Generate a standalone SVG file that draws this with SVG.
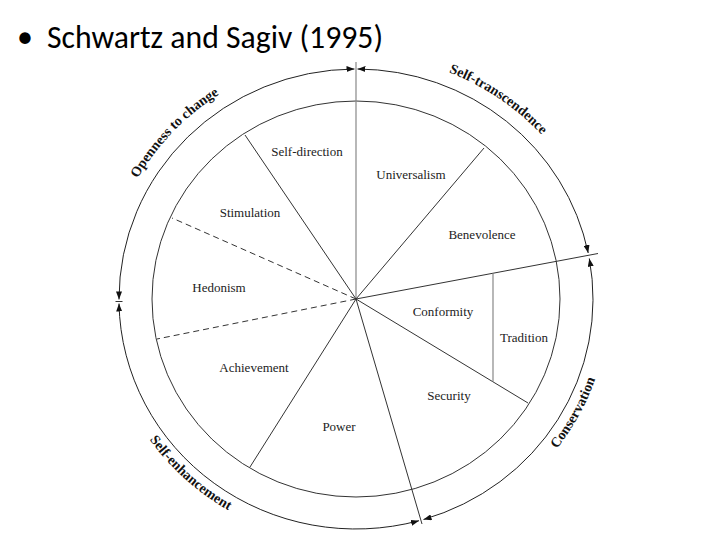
<svg xmlns="http://www.w3.org/2000/svg" width="720" height="540" viewBox="0 0 720 540">
  <style>
    .title { font-family: Carlito, Lato, "Liberation Sans", sans-serif; font-size: 32px; fill: #000; }
    .ring { fill: none; stroke: #333; stroke-width: 1; }
    .div { stroke: #333; stroke-width: 1; fill: none; }
    .dash { stroke: #333; stroke-width: 1; stroke-dasharray: 6 4; fill: none; }
    .gray { stroke: #888; stroke-width: 1.2; fill: none; }
    .arc { fill: none; stroke: #222; stroke-width: 1; marker-start: url(#ah); marker-end: url(#ah); }
    .lbl { font-family: "Liberation Serif", "Times New Roman", serif; font-size: 13px; fill: #222; text-anchor: middle; }
    .hv { font-family: "Liberation Serif", "Times New Roman", serif; font-size: 14px; font-weight: bold; fill: #111; }
  </style>
  <defs>
    <marker id="ah" viewBox="0 0 8 6" refX="8" refY="3" markerWidth="8" markerHeight="6" markerUnits="userSpaceOnUse" orient="auto-start-reverse">
      <path d="M0,0 L8,3 L0,6 z" fill="#111"/>
    </marker>
    <path id="pOpen" d="M105.3,286.2 A251,244 0 0,1 325.4,56.8"/>
    <path id="pTrans" d="M334.1,55.9 A251,244 0 0,1 598.4,235.8"/>
    <path id="pCons" d="M450.8,527.1 A253,246 0 0,0 603.5,247.9"/>
    <path id="pEnh" d="M105.9,328.9 A252,245 0 0,0 342.8,543.7"/>
  </defs>
  <rect width="720" height="540" fill="#fff"/>

  <g id="title">
    <text class="title" x="17" y="47" font-size="28">•</text>
    <text class="title" x="47" y="48" font-size="30" textLength="336" lengthAdjust="spacingAndGlyphs">Schwartz and Sagiv (1995)</text>
  </g>

  <g id="inner-ring">
    <ellipse class="ring" cx="356" cy="299" rx="204" ry="198"/>
  </g>

  <g id="connectors">
    <line class="gray" x1="356" y1="299" x2="356" y2="62"/>
    <line class="div" x1="356" y1="299" x2="245" y2="135"/>
    <line class="dash" x1="356" y1="299" x2="172" y2="218"/>
    <line class="dash" x1="356" y1="299" x2="157" y2="339"/>
    <line class="div" x1="356" y1="299" x2="250" y2="467"/>
    <line class="div" x1="356" y1="299" x2="422" y2="524"/>
    <line class="div" x1="356" y1="299" x2="528" y2="403"/>
    <line class="div" x1="356" y1="299" x2="598" y2="253.5"/>
    <line class="gray" x1="493" y1="273.5" x2="493" y2="381.8"/>
    <line class="div" x1="356" y1="299" x2="484" y2="148"/>
    <line class="div" x1="115.5" y1="301.5" x2="122.5" y2="301.5"/>
  </g>

  <g id="outer-arcs">
    <path id="arcOpen" class="arc" d="M119,299.5 A237,230 0 0,1 354.5,69"/>
    <path id="arcTrans" class="arc" d="M357.5,69 A237,230 0 0,1 588.2,253"/>
    <path id="arcCons" class="arc" d="M589.3,258.5 A237,230 0 0,1 423.5,519.5"/>
    <path id="arcEnh" class="arc" d="M419,520.7 A237,230 0 0,1 119,303.5"/>
  </g>

  <g id="openness"><text class="hv"><textPath href="#pOpen" startOffset="50%" text-anchor="middle">Openness to change</textPath></text></g>
  <g id="self-transcendence"><text class="hv"><textPath href="#pTrans" startOffset="50%" text-anchor="middle">Self-transcendence</textPath></text></g>
  <g id="conservation"><text class="hv"><textPath href="#pCons" startOffset="50%" text-anchor="middle">Conservation</textPath></text></g>
  <g id="self-enhancement"><text class="hv"><textPath href="#pEnh" startOffset="50%" text-anchor="middle">Self-enhancement</textPath></text></g>

  <g id="self-direction"><text class="lbl" x="307" y="156">Self-direction</text></g>
  <g id="universalism"><text class="lbl" x="411" y="179">Universalism</text></g>
  <g id="benevolence"><text class="lbl" x="482" y="239">Benevolence</text></g>
  <g id="stimulation"><text class="lbl" x="250" y="217">Stimulation</text></g>
  <g id="hedonism"><text class="lbl" x="219" y="292">Hedonism</text></g>
  <g id="achievement"><text class="lbl" x="254" y="372">Achievement</text></g>
  <g id="power"><text class="lbl" x="339" y="431">Power</text></g>
  <g id="conformity"><text class="lbl" x="443" y="316">Conformity</text></g>
  <g id="tradition"><text class="lbl" x="524" y="342">Tradition</text></g>
  <g id="security"><text class="lbl" x="449" y="400">Security</text></g>
</svg>
